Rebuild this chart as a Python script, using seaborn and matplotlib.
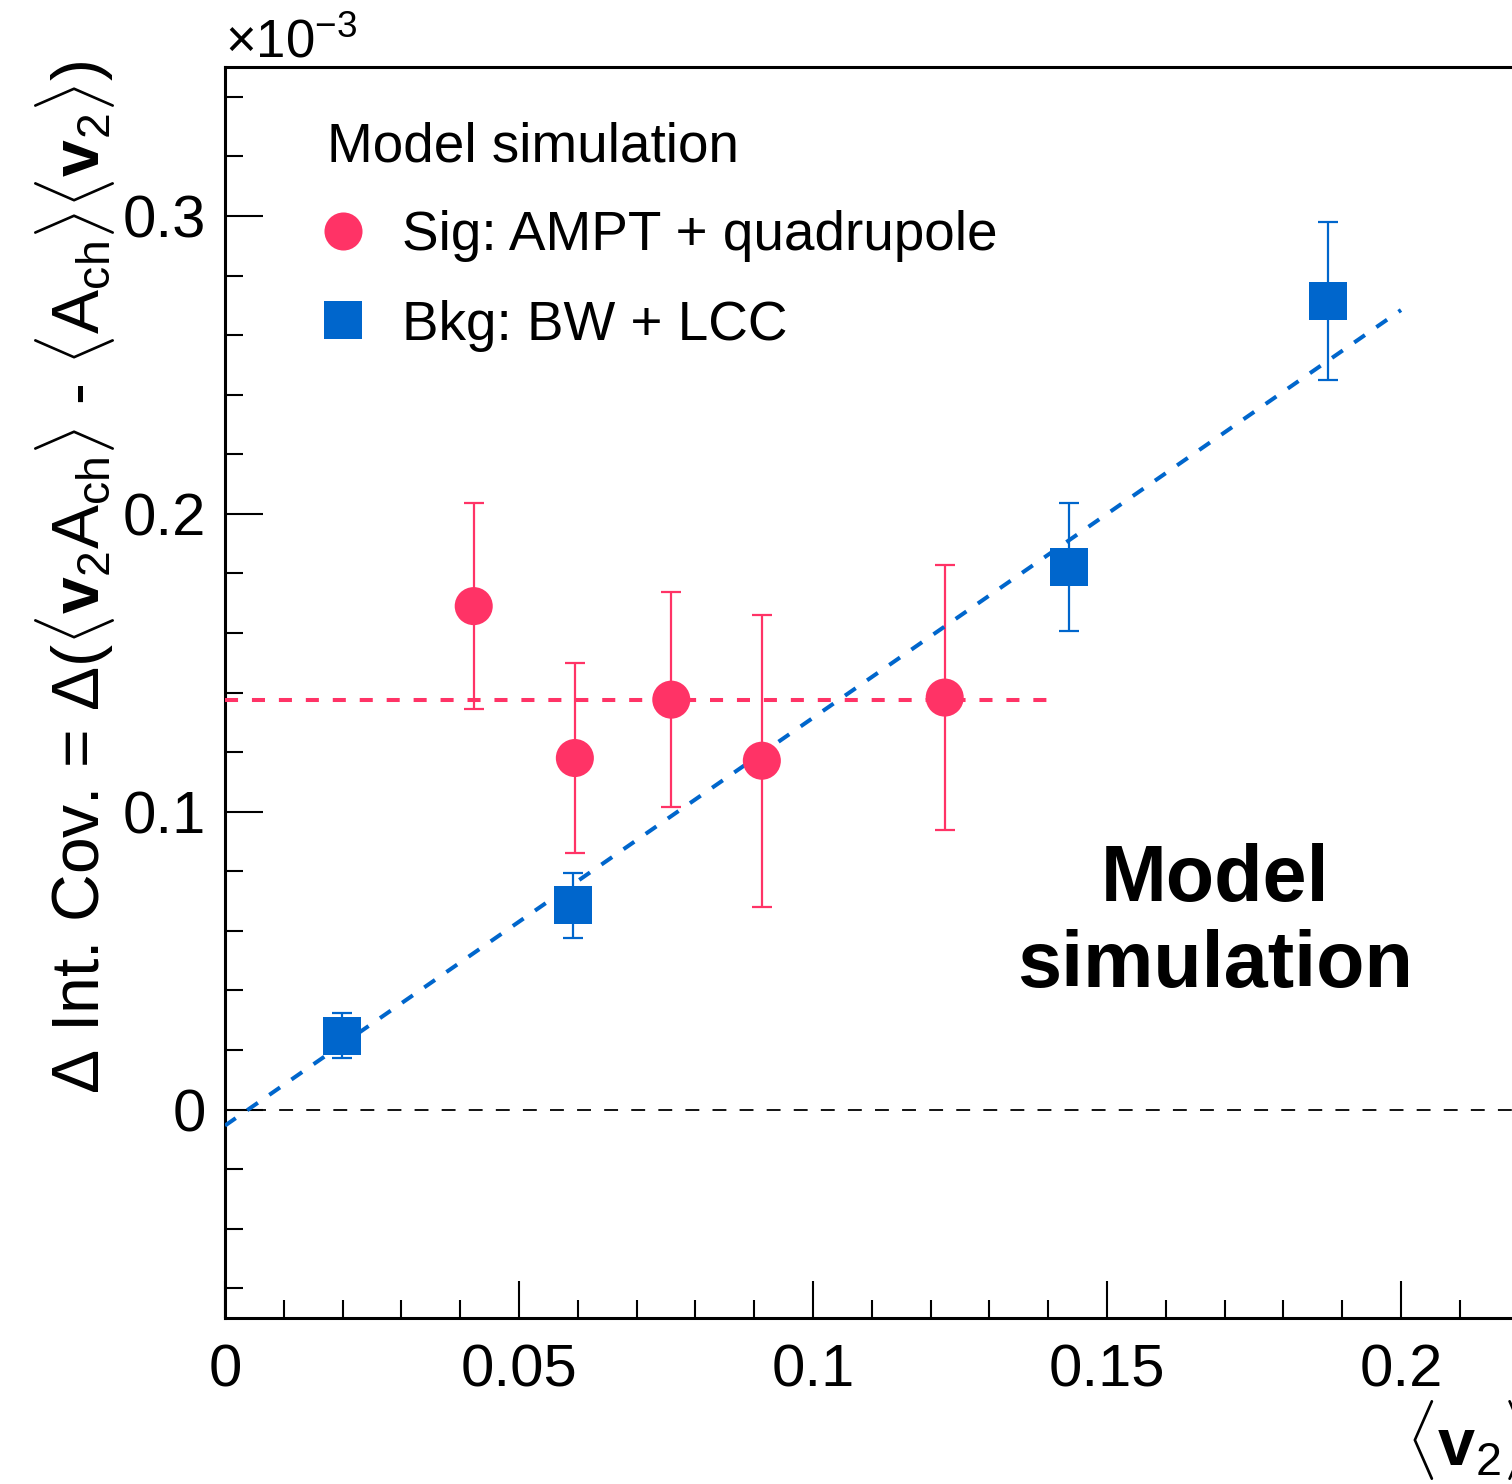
import numpy as np
import pandas as pd
import matplotlib
matplotlib.use("Agg")
import matplotlib.pyplot as plt
import seaborn as sns
from matplotlib.lines import Line2D
from matplotlib.ticker import MultipleLocator, FixedLocator, FuncFormatter

# ---------------- data (y in units of 1e-3) ----------------
sig_x = [0.0423, 0.0595, 0.0759, 0.0913, 0.1224]
sig_y = [0.169, 0.118, 0.1376, 0.1171, 0.1383]
sig_err = [0.0345, 0.032, 0.036, 0.049, 0.0446]

bkg_x = [0.0199, 0.0592, 0.1435, 0.1876]
bkg_y = [0.0248, 0.0685, 0.1822, 0.2715]
bkg_err = [0.0076, 0.011, 0.0214, 0.0265]

sig_fit_x = [0.0, 0.14]
sig_fit_y = [0.1376, 0.1376]
bkg_fit_x = [0.0, 0.2]
bkg_fit_y = [-0.0054, 0.2684]

x_major = [0, 0.05, 0.1, 0.15, 0.2]
y_major = [0, 0.1, 0.2, 0.3]

RED = "#FF3366"
BLUE = "#0066CC"

# ---------------- style ----------------
sns.set_theme(style="ticks")
plt.rcParams["font.family"] = ["Liberation Sans", "DejaVu Sans"]
plt.rcParams["mathtext.fontset"] = "custom"
plt.rcParams["mathtext.rm"] = "Liberation Sans"
plt.rcParams["mathtext.it"] = "Liberation Sans"
plt.rcParams["mathtext.bf"] = "Liberation Sans:bold"
plt.rcParams["lines.scale_dashes"] = False

DPI = 100
W, H = 1512, 1484
fig = plt.figure(figsize=(W / DPI, H / DPI), dpi=DPI)
fig.patch.set_facecolor("white")

# axes in pixel geometry (axes extends beyond right edge, like the reference)
x0_px, x_scale = 225, 5880.0
xmax = 0.25
AXW = xmax * x_scale
AXH = 1318 - 67
left = x0_px / W
right = (x0_px + AXW) / W
bottom = (H - 1318) / H
top = (H - 67) / H
ax = fig.add_axes([left, bottom, right - left, top - bottom])
ax.set_facecolor("white")

ax.set_xlim(0, xmax)
ax.set_ylim(-0.07, 0.35)

# error bars
ax.errorbar(sig_x, sig_y, yerr=sig_err, fmt="none", ecolor=RED, elinewidth=1.6,
            capsize=7.5, capthick=1.6, zorder=2)
ax.errorbar(bkg_x, bkg_y, yerr=bkg_err, fmt="none", ecolor=BLUE, elinewidth=1.6,
            capsize=7.5, capthick=1.6, zorder=2)

# zero line and fits
ax.axhline(0, color="black", lw=1.3, linestyle=(0, (10, 9.5)), zorder=1)
ax.plot(sig_fit_x, sig_fit_y, color=RED, lw=2.9, linestyle=(0, (9.4, 10)), zorder=3)
ax.plot(bkg_fit_x, bkg_fit_y, color=BLUE, lw=2.9, linestyle=(0, (9.4, 10)), zorder=3)

# markers
msize = 27.4
sns.scatterplot(x=sig_x, y=sig_y, ax=ax, color=RED, marker="o", s=msize ** 2,
                edgecolor="none", linewidth=0, zorder=4, legend=False)
sns.scatterplot(x=bkg_x, y=bkg_y, ax=ax, color=BLUE, marker="s", s=msize ** 2,
                edgecolor="none", linewidth=0, zorder=4, legend=False)

# ticks
ax.xaxis.set_major_locator(FixedLocator(x_major))
ax.xaxis.set_minor_locator(MultipleLocator(0.01))
ax.yaxis.set_major_locator(FixedLocator(y_major))
ax.yaxis.set_minor_locator(MultipleLocator(0.02))
fmt = FuncFormatter(lambda v, p: "%g" % round(v, 4))
ax.xaxis.set_major_formatter(fmt)
ax.yaxis.set_major_formatter(fmt)
ax.tick_params(axis="both", which="major", direction="in", length=27, width=1.5,
               labelsize=43, color="black", labelcolor="black")
ax.tick_params(axis="both", which="minor", direction="in", length=13, width=1.5,
               color="black")
ax.tick_params(axis="y", which="major", pad=14)
ax.tick_params(axis="x", which="major", pad=18.5)
ax.tick_params(top=False, right=False, which="both")

for s in ax.spines.values():
    s.set_linewidth(2.2)
    s.set_color("black")
    s.set_visible(True)

# labels
ax.set_ylabel(r"$\Delta$ Int. Cov. = $\Delta(\langle\mathbf{v}_{2}A_{\rm ch}\rangle$ - "
              r"$\langle A_{\rm ch}\rangle\langle\mathbf{v}_{2}\rangle)$",
              fontsize=47.5, loc="top", color="black")
ax.yaxis.set_label_coords((75 - x0_px) / AXW, (1318 - 60) / AXH)
ax.yaxis.label.set_va("center")
ax.yaxis.label.set_ha("right")

ax.set_xlabel(r"$\langle\mathbf{v}_{2}\rangle$", fontsize=48, color="black")
ax.xaxis.set_label_coords((1406 - x0_px) / AXW, -(1440 - 1318) / AXH)
ax.xaxis.label.set_ha("left")
ax.xaxis.label.set_va("center")

# exponent label
ax.text(0.0, (1318 - 57) / AXH, r"$\times10^{-3}$", transform=ax.transAxes, fontsize=38,
        ha="left", va="baseline", color="black")

# annotation
ax.text((1215 - x0_px) / x_scale, 0.0625, "Model\nsimulation", fontsize=57,
        fontweight="bold", ha="center", va="center", color="black", linespacing=1.2)

# legend
handles = [
    Line2D([], [], marker="o", color=RED, linestyle="none", markersize=msize,
           markeredgewidth=0),
    Line2D([], [], marker="s", color=BLUE, linestyle="none", markersize=msize,
           markeredgewidth=0),
]
labels = ["Sig: AMPT + quadrupole", "Bkg: BW + LCC"]
fs_leg = 39.5
leg = ax.legend(handles, labels, title="Model simulation", loc="upper left",
                bbox_to_anchor=((327 - x0_px) / AXW, (1318 - 121) / AXH),
                frameon=False, fontsize=fs_leg, title_fontsize=fs_leg, alignment="left",
                borderpad=0, borderaxespad=0, handlelength=0.58, handletextpad=0.78,
                labelspacing=0.68)
for t in leg.get_texts():
    t.set_color("black")
leg.get_title().set_color("black")

fig.savefig("out.png", dpi=DPI)
